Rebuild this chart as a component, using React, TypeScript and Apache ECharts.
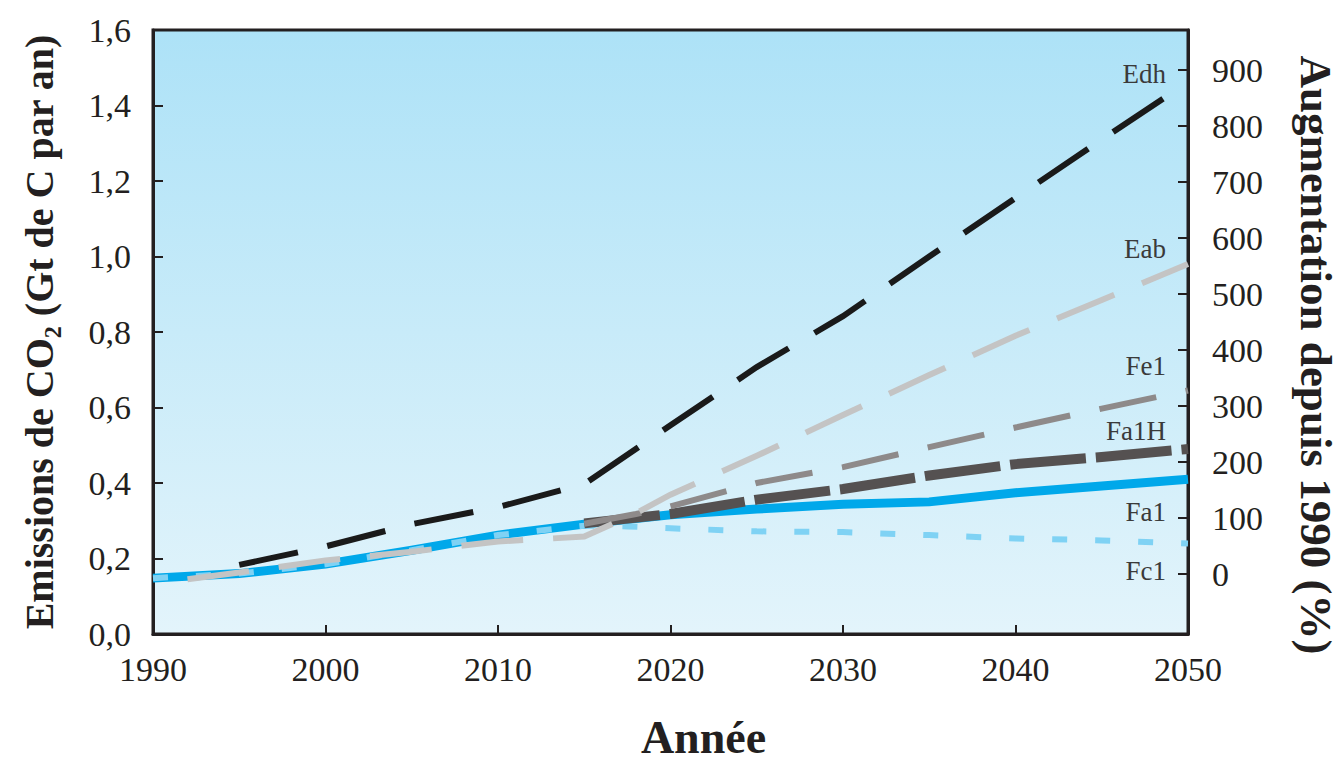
import React, { useEffect, useRef } from "react";
import * as echarts from "echarts";

// ---- Data (years, Gt C / year) ----
const fa1Years = [1990, 1995, 2000, 2005, 2010, 2015, 2020, 2025, 2030, 2035, 2040, 2045, 2050];
const fa1Values = [0.148, 0.16, 0.185, 0.222, 0.262, 0.291, 0.316, 0.331, 0.344, 0.35, 0.374, 0.392, 0.41];

const fc1Years = [1990, 1995, 2000, 2005, 2010, 2015, 2017.5, 2020, 2025, 2030, 2035, 2040, 2045, 2050];
const fc1Values = [0.148, 0.16, 0.185, 0.222, 0.262, 0.287, 0.285, 0.28, 0.272, 0.27, 0.262, 0.253, 0.248, 0.24];

const fa1hYears = [2015, 2020, 2025, 2030, 2035, 2040, 2045, 2050];
const fa1hValues = [0.293, 0.318, 0.356, 0.384, 0.42, 0.45, 0.469, 0.49];

const fe1Years = [2015, 2018, 2020, 2025, 2030, 2035, 2040, 2045, 2050];
const fe1Values = [0.292, 0.318, 0.338, 0.4, 0.442, 0.495, 0.547, 0.597, 0.645];

const eabYears = [1992, 1995, 2000, 2005, 2010, 2015, 2018, 2020, 2025, 2030, 2035, 2040, 2045, 2050];
const eabValues = [0.145, 0.163, 0.195, 0.218, 0.245, 0.258, 0.32, 0.369, 0.472, 0.58, 0.686, 0.79, 0.885, 0.98];

const edhYears = [1995, 2000, 2005, 2010, 2015, 2020, 2025, 2030, 2035, 2040, 2045, 2050];
const edhValues = [0.183, 0.232, 0.291, 0.336, 0.397, 0.553, 0.707, 0.842, 1.0, 1.155, 1.31, 1.462];

const xTicks = [1990, 2000, 2010, 2020, 2030, 2040, 2050];
const rightTicks = [0, 100, 200, 300, 400, 500, 600, 700, 800, 900];

const seriesLabels = [
  { text: "Edh", y: 75 },
  { text: "Eab", y: 250 },
  { text: "Fe1", y: 367 },
  { text: "Fa1H", y: 432 },
  { text: "Fa1", y: 513 },
  { text: "Fc1", y: 572 },
];

const pair = (xs: number[], ys: number[]) => xs.map((x, i) => [x, ys[i]]);

const FONT = "'Liberation Serif', 'Times New Roman', serif";
const INK = "#231f20";

export default function App() {
  const ref = useRef<HTMLDivElement>(null);

  useEffect(() => {
    if (!ref.current) return;
    const chart = echarts.init(ref.current, null, { renderer: "svg" });

    const lineSeries = (
      name: string,
      data: number[][],
      color: string,
      width: number,
      dash: number[] | "solid",
      z: number
    ) => ({
      name,
      type: "line",
      data,
      yAxisIndex: 0,
      showSymbol: false,
      symbol: "none",
      z,
      lineStyle: { color, width, type: dash, cap: "butt", join: "miter" },
    });

    const option: any = {
      animation: false,
      grid: {
        left: 153,
        right: 153,
        top: 30,
        bottom: 127,
        outerBoundsMode: "none",
        containLabel: false,
        show: true,
        borderColor: INK,
        borderWidth: 3,
        backgroundColor: {
          type: "linear",
          x: 0,
          y: 0,
          x2: 0,
          y2: 1,
          colorStops: [
            { offset: 0, color: "#ade2f7" },
            { offset: 1, color: "#e3f4fb" },
          ],
        },
      },
      xAxis: {
        type: "value",
        min: 1990,
        max: 2050,
        interval: 10,
        name: "Année",
        nameLocation: "middle",
        nameGap: 80,
        nameTextStyle: {
          fontFamily: FONT,
          fontWeight: "bold",
          fontSize: 46,
          lineHeight: 46,
          color: INK,
          padding: [0, 0, 0, 66],
        },
        axisLine: { show: true, lineStyle: { color: INK, width: 3 } },
        axisTick: { show: true, inside: true, length: 9, lineStyle: { color: INK, width: 2 } },
        axisLabel: {
          fontFamily: FONT,
          fontSize: 34,
          color: INK,
          margin: 18,
          customValues: xTicks,
          formatter: (v: number) => String(v),
        },
        splitLine: { show: false },
      },
      yAxis: [
        {
          type: "value",
          position: "left",
          min: 0,
          max: 1.6,
          interval: 0.2,
          name: "Emissions de CO₂ (Gt de C par an)",
          nameLocation: "middle",
          nameRotate: 90,
          nameGap: 94,
          nameTextStyle: { fontFamily: FONT, fontWeight: "bold", fontSize: 40, color: INK },
          axisLine: { show: true, lineStyle: { color: INK, width: 3 } },
          axisTick: { show: true, inside: true, length: 10, lineStyle: { color: INK, width: 2 } },
          axisLabel: {
            fontFamily: FONT,
            fontSize: 34,
            color: INK,
            margin: 22,
            formatter: (v: number) => v.toFixed(1).replace(".", ","),
          },
          splitLine: { show: false },
        },
        {
          type: "value",
          position: "right",
          min: -107.14,
          max: 971.43,
          name: "Augmentation depuis 1990 (%)",
          nameLocation: "middle",
          nameRotate: -90,
          nameGap: 106,
          nameTextStyle: {
            fontFamily: FONT,
            fontWeight: "bold",
            fontSize: 45,
            lineHeight: 44,
            color: INK,
            padding: [0, 0, 0, 46],
          },
          axisLine: { show: true, lineStyle: { color: INK, width: 3 } },
          axisTick: {
            show: true,
            inside: true,
            length: 10,
            customValues: rightTicks,
            lineStyle: { color: INK, width: 2 },
          },
          axisLabel: {
            fontFamily: FONT,
            fontSize: 34,
            color: INK,
            margin: 24,
            customValues: rightTicks,
            formatter: (v: number) => String(v),
          },
          splitLine: { show: false },
        },
      ],
      series: [
        lineSeries("Fa1", pair(fa1Years, fa1Values), "#00a8ea", 9, "solid", 2),
        lineSeries("Fc1", pair(fc1Years, fc1Values), "#7fd2f4", 6, [15, 28], 3),
        lineSeries("Fa1H", pair(fa1hYears, fa1hValues), "#555151", 10, [76, 10], 4),
        lineSeries("Fe1", pair(fe1Years, fe1Values), "#8e8a8a", 6, [58, 30], 5),
        lineSeries("Eab", pair(eabYears, eabValues), "#c4c4c4", 6, [62, 30], 6),
        lineSeries("Edh", pair(edhYears, edhValues), "#1a1a1a", 6, [60, 30], 7),
      ],
      graphic: seriesLabels.map((l) => ({
        type: "text",
        right: 1341 - 1166,
        top: l.y - 15,
        z: 20,
        style: {
          text: l.text,
          fontFamily: FONT,
          fontSize: 27,
          fill: "#3a3a3a",
        },
      })),
    };

    chart.setOption(option);
    return () => chart.dispose();
  }, []);

  return (
    <div
      ref={ref}
      style={{ position: "absolute", left: 0, top: 0, width: 1341, height: 761 }}
    />
  );
}
